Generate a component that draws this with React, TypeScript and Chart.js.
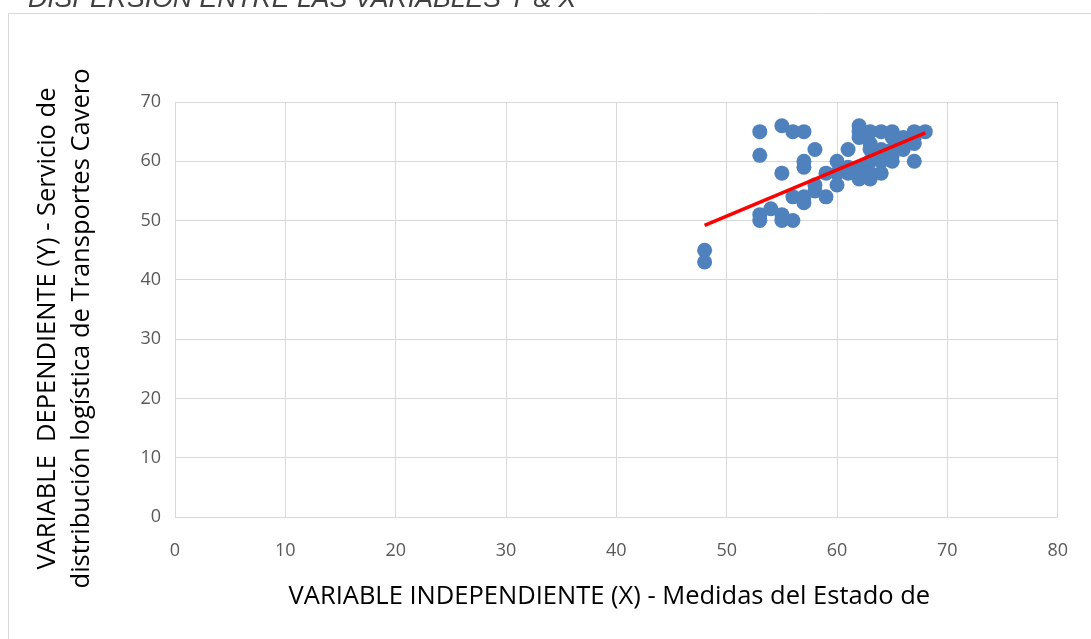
import React, { useEffect, useRef } from "react";
import { Chart, registerables } from "chart.js";

Chart.register(...registerables);

// ---- data ----
const xValues = [
  48, 48,
  53, 53, 53, 53,
  54,
  55, 55, 55, 55,
  56, 56, 56,
  57, 57, 57, 57, 57,
  58, 58, 58,
  59, 59,
  60, 60, 60,
  61, 61, 61,
  62, 62, 62, 62, 62, 62,
  63, 63, 63, 63, 63, 63,
  64, 64, 64, 64, 64,
  65, 65, 65, 65, 65,
  66, 66, 66,
  67, 67, 67, 67,
  68,
];
const yValues = [
  45, 43,
  65, 61, 51, 50,
  52,
  66, 58, 51, 50,
  65, 54, 50,
  65, 60, 59, 54, 53,
  62, 56, 55,
  58, 54,
  60, 56, 58,
  62, 59, 58,
  66, 65, 64, 59, 58, 57,
  65, 63, 62, 60, 58, 57,
  65, 62, 61, 60, 58,
  65, 64, 62, 61, 60,
  64, 63, 62,
  65, 64, 63, 60,
  65,
];
const trendX = [48, 68];
const trendY = [49.2, 64.8];

const xMin = 0;
const xMax = 80;
const xStep = 10;
const yMin = 0;
const yMax = 70;
const yStep = 10;

const chartTitle = "DISPERSIÓN ENTRE LAS VARIABLES Y & X";
const xAxisTitle = "VARIABLE INDEPENDIENTE (X) - Medidas del Estado de";
const yAxisTitle = [
  "VARIABLE  DEPENDIENTE (Y) - Servicio de",
  "distribución logística de Transportes Cavero",
];

const W = 1091;
const H = 639;
const FONT = '"Open Sans", "Liberation Sans", sans-serif';

export default function App() {
  const ref = useRef<HTMLCanvasElement | null>(null);

  useEffect(() => {
    const canvas = ref.current;
    if (!canvas) return;

    const framePlugin = {
      id: "frameAndTitles",
      beforeDraw(chart: any) {
        const ctx = chart.ctx;
        ctx.save();
        ctx.fillStyle = "#ffffff";
        ctx.fillRect(0, 0, W, H);
        ctx.strokeStyle = "#D9D9D9";
        ctx.lineWidth = 1;
        ctx.beginPath();
        ctx.moveTo(8.5, H);
        ctx.lineTo(8.5, 13.5);
        ctx.lineTo(W, 13.5);
        ctx.stroke();
        ctx.restore();
      },
      afterDraw(chart: any) {
        const ctx = chart.ctx;
        const a = chart.chartArea;
        ctx.save();
        // main title (cut off at the top, as in the reference)
        ctx.fillStyle = "#404040";
        ctx.font = 'italic 26.6px "Liberation Sans", Arial, sans-serif';
        ctx.textAlign = "left";
        ctx.textBaseline = "alphabetic";
        ctx.fillText(chartTitle, 28, 7.3);

        // x axis title
        ctx.fillStyle = "#000000";
        ctx.font = "25.5px " + FONT;
        ctx.textAlign = "center";
        ctx.textBaseline = "middle";
        ctx.fillText(xAxisTitle, (a.left + a.right) / 2 - 7, a.bottom + 80);

        // y axis title (two lines, rotated)
        ctx.translate(65, (a.top + a.bottom) / 2 + 19);
        ctx.rotate(-Math.PI / 2);
        ctx.fillText(yAxisTitle[0], 0, -17);
        ctx.fillText(yAxisTitle[1], 0, 17);
        ctx.restore();
      },
    };

    const scatterData = xValues.map((x, i) => ({ x, y: yValues[i] }));
    const trendData = trendX.map((x, i) => ({ x, y: trendY[i] }));

    const chart = new Chart(canvas, {
      type: "scatter",
      data: {
        datasets: [
          {
            label: "Tendencia",
            data: trendData,
            showLine: true,
            borderColor: "#FF0000",
            borderWidth: 3.5,
            pointRadius: 0,
            pointHoverRadius: 0,
            fill: false,
          } as any,
          {
            label: "Datos",
            data: scatterData,
            backgroundColor: "#4F81BD",
            borderWidth: 0,
            pointRadius: 7.5,
            pointHoverRadius: 7.5,
          },
        ],
      },
      options: {
        responsive: false,
        animation: false,
        events: [],
        layout: { padding: { top: 102, right: 29, left: 0, bottom: 0 } },
        plugins: {
          legend: { display: false },
          tooltip: { enabled: false },
          title: { display: false },
        },
        scales: {
          x: {
            type: "linear",
            position: "bottom",
            min: xMin,
            max: xMax,
            ticks: {
              stepSize: xStep,
              padding: 23,
              color: "#595959",
              font: { family: FONT, size: 18 },
            },
            grid: { color: "#D9D9D9", lineWidth: 1, drawTicks: false },
            border: { display: false },
            afterFit(scale: any) {
              scale.height = 122;
            },
          },
          y: {
            type: "linear",
            min: yMin,
            max: yMax,
            ticks: {
              stepSize: yStep,
              padding: 14,
              color: "#595959",
              font: { family: FONT, size: 18 },
            },
            grid: { color: "#D9D9D9", lineWidth: 1, drawTicks: false },
            border: { display: false },
            afterFit(scale: any) {
              scale.width = 175;
            },
          },
        },
      },
      plugins: [framePlugin],
    });

    return () => {
      chart.destroy();
    };
  }, []);

  return (
    <div style={{ position: "absolute", left: 0, top: 0, width: W, height: H }}>
      <canvas ref={ref} width={W} height={H} style={{ width: W, height: H, display: "block" }} />
    </div>
  );
}
